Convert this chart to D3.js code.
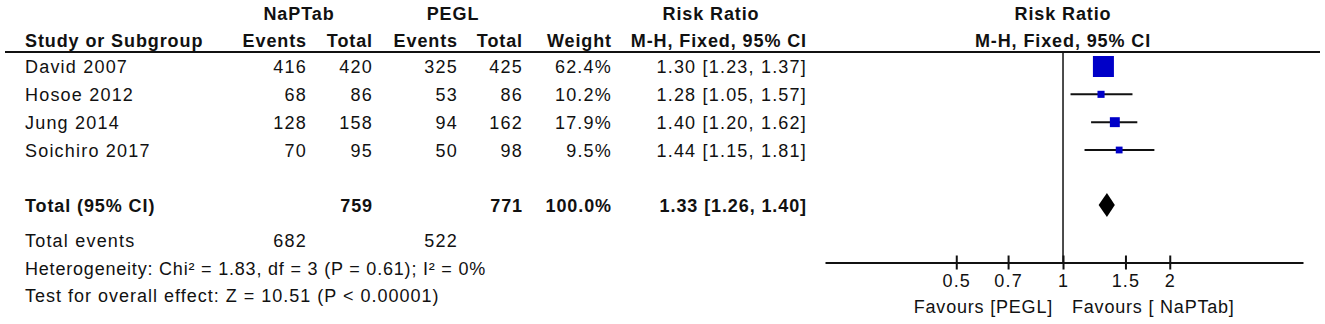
<!DOCTYPE html>
<html>
<head>
<meta charset="utf-8">
<script src="https://d3js.org/d3.v7.min.js"></script>
<style>
  body { margin: 0; background: #fff; }
  text { font-family: "Liberation Sans", Arial, sans-serif; font-size: 18px; letter-spacing: 1.2px; fill: #111; }
  .b { font-weight: bold; letter-spacing: 0.9px; }
</style>
</head>
<body>
<svg id="forest"></svg>
<script>
var dimensions = {
    width: 1325,
    height: 324
}

var studies = ["David 2007", "Hosoe 2012", "Jung 2014", "Soichiro 2017"];
var eventsA = [416, 68, 128, 70];
var totalA = [420, 86, 158, 95];
var eventsB = [325, 53, 94, 50];
var totalB = [425, 86, 162, 98];
var weights = [62.4, 10.2, 17.9, 9.5];
var rr = [1.30, 1.28, 1.40, 1.44];
var rrLow = [1.23, 1.05, 1.20, 1.15];
var rrHigh = [1.37, 1.57, 1.62, 1.81];

var pooled = {rr: 1.33, lo: 1.26, hi: 1.40, totalA: 759, totalB: 771, weight: "100.0%"};
var totalEvents = [682, 522];
var tickValues = [0.5, 0.7, 1, 1.5, 2];
var tickLabels = ["0.5", "0.7", "1", "1.5", "2"];

var sample = studies.map(function(s, i) {
    return {
      study: s, ea: eventsA[i], ta: totalA[i], eb: eventsB[i], tb: totalB[i],
      w: weights[i], rr: rr[i], lo: rrLow[i], hi: rrHigh[i]
    };
});

var svg = d3.select("#forest")
            .attr("width", dimensions.width)
            .attr("height", dimensions.height)

var xScale = d3.scaleLog()
               .domain([0.2132, 4.751])
               .range([825, 1303])
var yScale = d3.scalePoint()
               .domain(studies)
               .range([66.5, 150])
var sizeScale = d3.scalePow().exponent(0.6)
               .domain([0, 62.4])
               .range([0, 21])
var totalY = 205;
var axisY = 262.5;

// column right edges
var cols = {ea: 307, ta: 373, eb: 458, tb: 523, w: 612, ci: 807};

function fmt(v) { return v.toFixed(2); }

// header
var head = svg.append("g").attr("class", "head");
head.append("text").attr("class", "b").attr("x", 299).attr("y", 20).attr("text-anchor", "middle").text("NaPTab");
head.append("text").attr("class", "b").attr("x", 453).attr("y", 20).attr("text-anchor", "middle").text("PEGL");
head.append("text").attr("class", "b").attr("x", 711).attr("y", 20).attr("text-anchor", "middle").text("Risk Ratio");
head.append("text").attr("class", "b").attr("x", xScale(1)).attr("y", 20).attr("text-anchor", "middle").text("Risk Ratio");
head.append("text").attr("class", "b").attr("x", 25).attr("y", 47).text("Study or Subgroup");
[["Events", cols.ea], ["Total", cols.ta], ["Events", cols.eb], ["Total", cols.tb], ["Weight", cols.w], ["M-H, Fixed, 95% CI", cols.ci]]
  .forEach(function(h) {
    head.append("text").attr("class", "b").attr("x", h[1]).attr("y", 47).attr("text-anchor", "end").text(h[0]);
  });
head.append("text").attr("class", "b").attr("x", xScale(1)).attr("y", 47).attr("text-anchor", "middle").text("M-H, Fixed, 95% CI");

svg.append("line")
   .attr("x1", 5).attr("x2", 1320).attr("y1", 52).attr("y2", 52)
   .attr("stroke", "#111").attr("stroke-width", 2);

// study rows
var rows = svg.selectAll(".row")
              .data(sample)
              .enter()
              .append("g")
              .attr("class", "row")
              .attr("transform", d => `translate(0,${yScale(d.study) + 6.5})`)
rows.append("text").attr("x", 25).text(d => d.study);
rows.append("text").attr("x", cols.ea).attr("text-anchor", "end").text(d => d.ea);
rows.append("text").attr("x", cols.ta).attr("text-anchor", "end").text(d => d.ta);
rows.append("text").attr("x", cols.eb).attr("text-anchor", "end").text(d => d.eb);
rows.append("text").attr("x", cols.tb).attr("text-anchor", "end").text(d => d.tb);
rows.append("text").attr("x", cols.w).attr("text-anchor", "end").text(d => d.w.toFixed(1) + "%");
rows.append("text").attr("x", cols.ci).attr("text-anchor", "end")
    .text(d => fmt(d.rr) + " [" + fmt(d.lo) + ", " + fmt(d.hi) + "]");

// total rows
var tot = svg.append("g").attr("transform", `translate(0,${totalY + 7})`);
tot.append("text").attr("class", "b").attr("x", 25).text("Total (95% CI)");
tot.append("text").attr("class", "b").attr("x", cols.ta).attr("text-anchor", "end").text(pooled.totalA);
tot.append("text").attr("class", "b").attr("x", cols.tb).attr("text-anchor", "end").text(pooled.totalB);
tot.append("text").attr("class", "b").attr("x", cols.w).attr("text-anchor", "end").text(pooled.weight);
tot.append("text").attr("class", "b").attr("x", cols.ci).attr("text-anchor", "end")
   .text(fmt(pooled.rr) + " [" + fmt(pooled.lo) + ", " + fmt(pooled.hi) + "]");

svg.append("text").attr("x", 25).attr("y", 247).text("Total events");
svg.append("text").attr("x", cols.ea).attr("y", 247).attr("text-anchor", "end").text(totalEvents[0]);
svg.append("text").attr("x", cols.eb).attr("y", 247).attr("text-anchor", "end").text(totalEvents[1]);
svg.append("text").attr("x", 25).attr("y", 275).style("letter-spacing", "0.8px")
   .text("Heterogeneity: Chi\u00b2 = 1.83, df = 3 (P = 0.61); I\u00b2 = 0%");
svg.append("text").attr("x", 25).attr("y", 302).style("letter-spacing", "1px")
   .text("Test for overall effect: Z = 10.51 (P < 0.00001)");

// null line
svg.append("line")
   .attr("x1", xScale(1)).attr("x2", xScale(1))
   .attr("y1", 52).attr("y2", axisY)
   .attr("stroke", "#111").attr("stroke-width", 1.5);

// CI lines and squares
var marks = svg.selectAll(".mark")
               .data(sample)
               .enter()
               .append("g")
               .attr("class", "mark")
marks.append("line")
     .attr("x1", d => xScale(d.lo)).attr("x2", d => xScale(d.hi))
     .attr("y1", d => yScale(d.study)).attr("y2", d => yScale(d.study))
     .attr("stroke", "#111").attr("stroke-width", 2);
marks.append("rect")
     .attr("x", d => xScale(d.rr) - sizeScale(d.w) / 2)
     .attr("y", d => yScale(d.study) - sizeScale(d.w) / 2)
     .attr("width", d => sizeScale(d.w))
     .attr("height", d => sizeScale(d.w))
     .attr("fill", "#0000c8");

// diamond
svg.append("path")
   .attr("d", "M" + xScale(pooled.lo) + "," + totalY +
              "L" + xScale(pooled.rr) + "," + (totalY - 12) +
              "L" + xScale(pooled.hi) + "," + totalY +
              "L" + xScale(pooled.rr) + "," + (totalY + 12) + "Z")
   .attr("fill", "#000");

// axis
var xAxisgen = d3.axisBottom(xScale)
                 .tickValues(tickValues)
                 .tickFormat((d, i) => tickLabels[i])
                 .tickSizeInner(7)
                 .tickSizeOuter(0)
                 .tickPadding(5)
var xAxis = svg.append("g")
               .attr("transform", `translate(0,${axisY})`)
               .call(xAxisgen)
xAxis.select(".domain").attr("stroke", "#111").attr("stroke-width", 2);
xAxis.selectAll(".tick line").attr("y1", -7).attr("stroke", "#111").attr("stroke-width", 2);
xAxis.selectAll(".tick text")
     .attr("font-family", null).attr("font-size", null)
     .attr("fill", "#111");

svg.append("text").attr("x", xScale(1) - 10).attr("y", 313).attr("text-anchor", "end")
   .style("letter-spacing", "0.8px").text("Favours [PEGL]");
svg.append("text").attr("x", xScale(1) + 9).attr("y", 313)
   .style("letter-spacing", "0.8px").text("Favours [ NaPTab]");
</script>
</body>
</html>
